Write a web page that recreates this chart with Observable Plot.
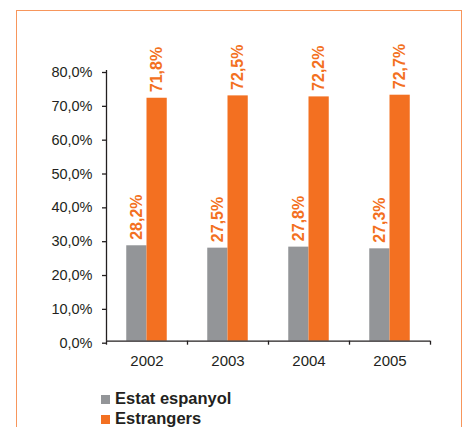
<!DOCTYPE html>
<html>
<head>
<meta charset="utf-8">
<script src="https://cdn.jsdelivr.net/npm/d3@7"></script>
<script src="https://cdn.jsdelivr.net/npm/@observablehq/plot@0.6"></script>
<style>
  html, body { margin: 0; padding: 0; background: #fff; }
  #wrap { position: relative; width: 470px; height: 427px; overflow: hidden; }
  #frame { position: absolute; left: 16px; top: 10px; width: 446px; height: 440px;
           border: 1.5px solid #f7965c; box-sizing: border-box; }
  #chart { position: absolute; left: 0; top: 0; }
  #legend { position: absolute; left: 101px; top: 388px; font-family: "Liberation Sans", Arial, sans-serif;
            font-weight: bold; font-size: 16.5px; line-height: 20px; color: #231f20; }
  .sw { display: inline-block; width: 9px; height: 9px; margin-right: 5px; vertical-align: baseline; }
</style>
</head>
<body>
<div id="wrap">
  <div id="frame"></div>
  <div id="chart"></div>
  <div id="legend"></div>
</div>
<script>
const years = [2002, 2003, 2004, 2005];
const estat = [28.2, 27.5, 27.8, 27.3];
const estrangers = [71.8, 72.5, 72.2, 72.7];
const yTicks = [0, 10, 20, 30, 40, 50, 60, 70, 80];
const seriesNames = ["Estat espanyol", "Estrangers"];
const seriesColors = ["#939598", "#f37021"];

const fmt = v => v.toFixed(1).replace(".", ",") + "%";
const rows = years.flatMap((yr, i) => [
  {year: yr, series: seriesNames[0], value: estat[i], x1: yr - 0.25, x2: yr},
  {year: yr, series: seriesNames[1], value: estrangers[i], x1: yr, x2: yr + 0.25}
]);
const bounds = [years[0] - 0.5, ...years.map(y => y + 0.5)];
const font = '"Liberation Sans", Arial, sans-serif';
const ink = "#231f20";

const chart = Plot.plot({
  width: 470,
  height: 427,
  marginLeft: 106,
  marginRight: 40,
  marginTop: 70,
  marginBottom: 86.3,
  style: {fontFamily: font, background: "transparent", overflow: "visible"},
  x: {domain: [bounds[0], bounds[bounds.length - 1]], label: null},
  y: {domain: [0, 80], label: null},
  color: {domain: seriesNames, range: seriesColors},
  marks: [
    Plot.rectY(rows, {x1: "x1", x2: "x2", y: "value", fill: "series"}),
    Plot.ruleX([bounds[0]], {y1: 0, y2: 80, stroke: ink, strokeWidth: 1.3}),
    Plot.ruleY([0], {x1: bounds[0], x2: bounds[bounds.length - 1], stroke: ink, strokeWidth: 1.3}),
    Plot.axisY({ticks: yTicks, tickSize: 4, tickPadding: 10, tickFormat: fmt, fontSize: 14.5, dy: 2, fill: "#231f20", stroke: ink, strokeWidth: 1.3, label: null}),
    Plot.axisX({ticks: bounds, tickSize: 4, tickFormat: () => "", stroke: ink, strokeWidth: 1.3, label: null}),
    Plot.axisX({ticks: years, tickSize: 0, tickPadding: 14, tickFormat: d => String(d), fontSize: 15, fill: "#231f20", label: null}),
    Plot.text(rows, {x: d => (d.x1 + d.x2) / 2, y: "value", text: d => fmt(d.value), rotate: -90,
      textAnchor: "start", dy: -6, fill: seriesColors[1], fontWeight: "bold", fontSize: 16})
  ]
});
document.getElementById("chart").appendChild(chart);

const legend = document.getElementById("legend");
seriesNames.forEach((name, i) => {
  const row = document.createElement("div");
  const sw = document.createElement("span");
  sw.className = "sw";
  sw.style.background = seriesColors[i];
  row.appendChild(sw);
  row.appendChild(document.createTextNode(name));
  legend.appendChild(row);
});
</script>
</body>
</html>
